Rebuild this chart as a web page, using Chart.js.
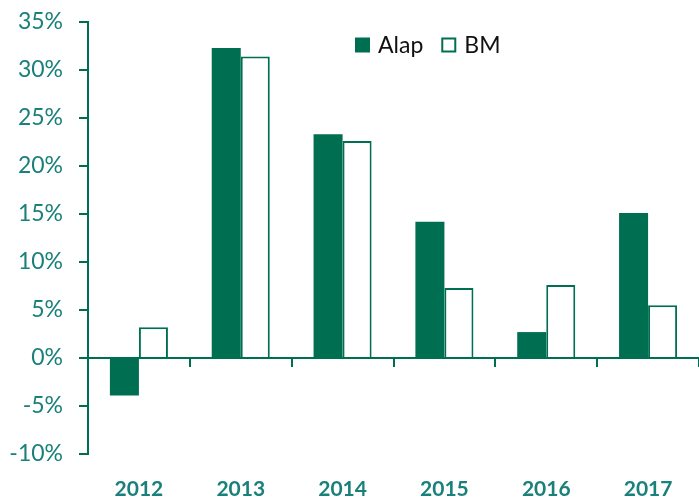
<!DOCTYPE html>
<html>
<head>
<meta charset="utf-8">
<script src="https://cdn.jsdelivr.net/npm/chart.js@4"></script>
<style>
  html, body { margin: 0; padding: 0; background: #fff; }
  #wrap { width: 699px; height: 499px; position: relative; }
</style>
</head>
<body>
<div id="wrap"><canvas id="chart"></canvas></div>
<script>
// Yearly returns, fund ("Alap") vs benchmark ("BM"), in percent.
const years = ['2012', '2013', '2014', '2015', '2016', '2017'];
const alap = [-3.9, 32.3, 23.3, 14.2, 2.7, 15.1];
const bm = [3.2, 31.4, 22.6, 7.3, 7.6, 5.5];
const yTicks = { min: -10, max: 35, step: 5 };

const GREEN = '#006e51';
const TEAL = '#1a807a';

// Legend drawn inside the plot, a bit right of centre (built-in one can't sit there).
const inlineLegend = {
  id: 'inlineLegend',
  afterDraw(chart) {
    const { ctx, chartArea: a } = chart;
    const box = 15, gap = 8, spacing = 18;
    let x = a.left + 267;
    const y = a.top + 23;
    ctx.save();
    ctx.font = '23px Lato';
    ctx.textBaseline = 'middle';
    chart.data.datasets.forEach((ds) => {
      ctx.fillStyle = ds.backgroundColor;
      ctx.fillRect(x, y - box / 2, box, box);
      if (ds.borderWidth) {
        ctx.strokeStyle = ds.borderColor;
        ctx.lineWidth = ds.borderWidth;
        ctx.strokeRect(x + 1, y - box / 2 + 1, box - 2, box - 2);
      }
      ctx.fillStyle = '#111';
      ctx.fillText(ds.label, x + box + gap, y + 1);
      x += box + gap + ctx.measureText(ds.label).width + spacing;
    });
    ctx.restore();
  },
};

new Chart(document.getElementById('chart'), {
  type: 'bar',
  data: {
    labels: years,
    datasets: [
      {
        label: 'Alap',
        data: alap,
        backgroundColor: GREEN,
        borderWidth: 0,
      },
      {
        label: 'BM',
        data: bm,
        backgroundColor: '#ffffff',
        borderColor: GREEN,
        borderWidth: 2,
      },
    ],
  },
  options: {
    responsive: true,
    maintainAspectRatio: false,
    animation: false,
    datasets: { bar: { categoryPercentage: 0.57, barPercentage: 1 } },
    layout: { padding: { top: 22, right: 0, bottom: 0, left: 0 } },
    plugins: {
      legend: { display: false },
      tooltip: { enabled: false },
    },
    scales: {
      x: {
        position: 'bottom',
        grid: { display: false },
        border: { display: false },
        ticks: {
          color: TEAL,
          padding: 15,
          font: { family: 'Lato', size: 21, weight: 'bold' },
        },
        afterFit: (s) => { s.height = 45; },
      },
      // zero line with the category tick marks hanging below it
      x2: {
        type: 'category',
        position: { y: 0 },
        offset: true,
        grid: {
          offset: true,
          drawOnChartArea: false,
          tickLength: 8,
          color: GREEN,
          lineWidth: 2,
        },
        border: { color: GREEN, width: 2 },
        ticks: { display: false },
        afterFit: (s) => { s.height = 0; },
      },
      y: {
        min: yTicks.min,
        max: yTicks.max,
        grid: {
          drawOnChartArea: false,
          tickLength: 9,
          color: GREEN,
          lineWidth: 2,
        },
        border: { color: GREEN, width: 2 },
        ticks: {
          stepSize: yTicks.step,
          color: TEAL,
          padding: 16,
          font: { family: 'Lato', size: 23 },
          callback: (v) => v + '%',
        },
        afterFit: (s) => {
          s.width = 88;
          s.paddingTop = 0;
          s.paddingBottom = 0;
        },
      },
    },
  },
  plugins: [inlineLegend],
});
</script>
</body>
</html>
